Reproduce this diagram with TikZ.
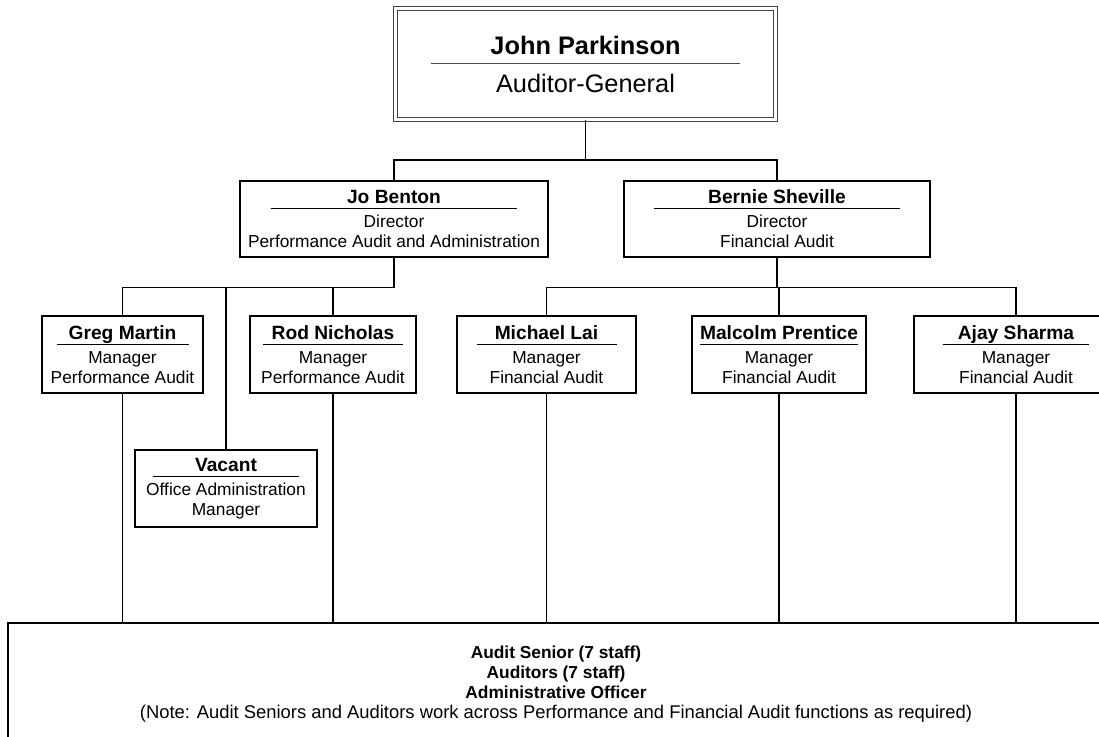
\documentclass[tikz,border=0pt]{standalone}
\usepackage{fontspec}
\setmainfont{Liberation Sans}
\usetikzlibrary{calc}

% box contents: bold name over a rule, then the job title
\newcommand{\postbox}[3]{{\fontsize{14.4}{15}\selectfont\bfseries #1}\\[-11pt]\rule{#2}{0.6pt}\\[-1pt]#3}

\tikzset{
	post/.style={draw, line width=0.9pt, align=center, inner sep=0pt,
		minimum height=57.75pt, font=\fontsize{13}{15}\selectfont},
	link/.style={line width=0.9pt}
}

\begin{document}
\begin{tikzpicture}[x=0.75pt, y=-0.75pt]
		\useasboundingbox (0,0) rectangle (1099,736);
		\clip (0,0) rectangle (1099,736);
		
		% head of office
		\node[draw=black!75, double, double distance=2.4pt, line width=0.6pt, align=center,
			inner sep=0pt, minimum width=285pt, minimum height=83.25pt,
			font=\fontsize{19}{20}\selectfont] (ag) at (585.5,64)
			{\textbf{John Parkinson}\\[-13pt]{\color{black!70}\rule{232pt}{0.6pt}}\\[1.5pt]Auditor-General};
		
		% directors
		\node[post, minimum width=231pt, minimum height=57pt] (jo) at (394,219)
			{\postbox{Jo Benton}{185pt}{Director\\Performance Audit and Administration}};
		\node[post, minimum width=229.5pt, minimum height=57pt] (bernie) at (777,219)
			{\postbox{Bernie Sheville}{185pt}{Director\\Financial Audit}};
		
		% managers
		\node[post, minimum width=120.75pt] (greg) at (122.5,354.5)
			{\postbox{Greg Martin}{99pt}{Manager\\Performance Audit}};
		\node[post, minimum width=124.5pt] (rod) at (333,354.5)
			{\postbox{Rod Nicholas}{105pt}{Manager\\Performance Audit}};
		\node[post, minimum width=136.5pt] (vacant) at (226,488.5)
			{\postbox{Vacant}{110pt}{Office Administration\\Manager}};
		\node[post, minimum width=134.25pt] (michael) at (546.5,354.5)
			{\postbox{Michael Lai}{105pt}{Manager\\Financial Audit}};
		\node[post, minimum width=130.5pt] (malcolm) at (779,354.5)
			{\postbox{Malcolm Prentice}{118pt}{Manager\\Financial Audit}};
		\node[post, minimum width=153pt] (ajay) at (1016,354.5)
			{\postbox{Ajay Sharma}{110pt}{Manager\\Financial Audit}};
		
		% shared staff
		\node[draw, line width=0.9pt, align=center, inner sep=0pt, minimum width=822pt,
			minimum height=91.5pt, font=\fontsize{13}{15}\selectfont\bfseries] (staff) at (556,684)
			{Audit Senior (7 staff)\\Auditors (7 staff)\\Administrative Officer\\
			{\mdseries\fontsize{13.8}{15}\selectfont (Note: Audit Seniors and Auditors work across Performance and Financial Audit functions as required)}};
		
		% reporting lines
		\draw[link] (ag.south) -- ++(0,40) coordinate (agbus);
		\draw[link] (jo.north) |- (agbus) -| (bernie.north);
		\draw[link] (jo.south) -- ++(0,30) coordinate (jobus);
		\draw[link] (greg.north) |- (jobus) -| (rod.north);
		\draw[link] (vacant.north) -- (vacant.north |- jobus);
		\draw[link] (bernie.south) -- ++(0,30) coordinate (bebus);
		\draw[link] (michael.north) |- (bebus) -| (ajay.north);
		\draw[link] (malcolm.north) -- (malcolm.north |- bebus);
		
		\foreach \m in {greg, rod, michael, malcolm, ajay}
			\draw[link] (\m.south) -- (\m.south |- staff.north);
	\end{tikzpicture}
\end{document}
